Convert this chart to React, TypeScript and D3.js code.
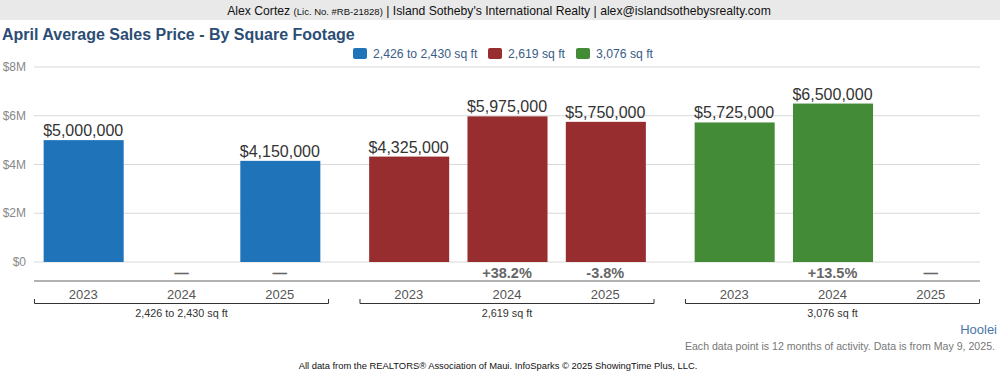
import React from "react";
import * as d3 from "d3";

const groups = ["2,426 to 2,430 sq ft", "2,619 sq ft", "3,076 sq ft"];
const years = ["2023", "2024", "2025"];
const valuesG1: (number | null)[] = [5000000, null, 4150000];
const valuesG2: (number | null)[] = [4325000, 5975000, 5750000];
const valuesG3: (number | null)[] = [5725000, 6500000, null];
const changesG1 = ["", "—", "—"];
const changesG2 = ["", "+38.2%", "-3.8%"];
const changesG3 = ["", "+13.5%", "—"];
const colors = ["#1f73b8", "#982d30", "#438b36"];
const yTicks = [0, 2000000, 4000000, 6000000, 8000000];
const yTickLabels = ["$0", "$2M", "$4M", "$6M", "$8M"];

const allValues = [valuesG1, valuesG2, valuesG3];
const allChanges = [changesG1, changesG2, changesG3];

const FONT = "'Liberation Sans', Arial, Helvetica, sans-serif";

export default function App() {
  const W = 1000, H = 375;
  const left = 34, right = 980, top = 67, bottom = 262;
  const x0 = d3.scaleBand<string>().domain(groups).range([left, right]).paddingInner(0.0937).paddingOuter(0);
  const x1 = d3.scaleBand<string>().domain(years).range([0, x0.bandwidth()]).paddingInner(0.186).paddingOuter(0.093);
  const y = d3.scaleLinear().domain([0, 8000000]).range([bottom, top]);
  const fmt = d3.format("$,.0f");

  const legendItems = [
    { x: 353, label: groups[0] },
    { x: 488, label: groups[1] },
    { x: 576, label: groups[2] },
  ];

  return (
    <svg width={W} height={H} style={{ position: "absolute", left: 0, top: 0, fontFamily: FONT }}>
      <rect x={0} y={0} width={W} height={H} fill="#ffffff" />
      <rect x={0} y={0} width={W} height={20} fill="#e9e9e9" />
      <text x={499} y={15} textAnchor="middle" fontSize={12.2} fill="#111">
        Alex Cortez <tspan fontSize={9.5}>(Lic. No. #RB-21828)</tspan> | Island Sotheby's International Realty | alex@islandsothebysrealty.com
      </text>
      <text x={2} y={40} fontSize={16} fontWeight="bold" fill="#2c4d75">
        April Average Sales Price - By Square Footage
      </text>
      {legendItems.map((l, i) => (
        <g key={i}>
          <rect x={l.x} y={48} width={14} height={11} rx={2} fill={colors[i]} />
          <text x={l.x + 20} y={58} fontSize={12.2} fill="#3a5d88">{l.label}</text>
        </g>
      ))}
      {yTicks.map((t, i) => (
        <g key={t}>
          <line x1={left} x2={right} y1={y(t)} y2={y(t)} stroke="#d9d9d9" strokeWidth={1} />
          <text x={26} y={y(t) + 4} textAnchor="end" fontSize={12} fill="#888">{yTickLabels[i]}</text>
        </g>
      ))}
      {groups.map((g, gi) => (
        <g key={g} transform={`translate(${x0(g)},0)`}>
          {years.map((yr, yi) => {
            const v = allValues[gi][yi];
            const bx = x1(yr)!;
            const cx = bx + x1.bandwidth() / 2;
            const ch = allChanges[gi][yi];
            return (
              <g key={yr}>
                {v !== null && (
                  <>
                    <rect x={bx + 0.5} y={y(v)} width={x1.bandwidth()} height={y(0) - y(v)} fill={colors[gi]} />
                    <text x={cx} y={y(v) - 4} textAnchor="middle" fontSize={16} fill="#333">{fmt(v)}</text>
                  </>
                )}
                {ch && (
                  <text x={cx} y={278} textAnchor="middle" fontSize={14.5} fontWeight="bold" fill="#666">{ch}</text>
                )}
                <text x={cx} y={299} textAnchor="middle" fontSize={13} fill="#555">{yr}</text>
              </g>
            );
          })}
          <path d={`M0.5,${299}V${303.5}H${x0.bandwidth() - 0.5}V${299}`} fill="none" stroke="#333" strokeWidth={1} />
          <text x={x0.bandwidth() / 2} y={317} textAnchor="middle" fontSize={10.8} fill="#333">{g}</text>
        </g>
      ))}
      <line x1={left} x2={right} y1={281} y2={281} stroke="#666" strokeWidth={1} />
      <text x={997} y={334} textAnchor="end" fontSize={13} fill="#4a76a8">Hoolei</text>
      <text x={995} y={350} textAnchor="end" fontSize={10.6} fill="#777">Each data point is 12 months of activity. Data is from May 9, 2025.</text>
      <text x={498} y={369} textAnchor="middle" fontSize={9.4} fill="#111">All data from the REALTORS® Association of Maui. InfoSparks © 2025 ShowingTime Plus, LLC.</text>
    </svg>
  );
}
